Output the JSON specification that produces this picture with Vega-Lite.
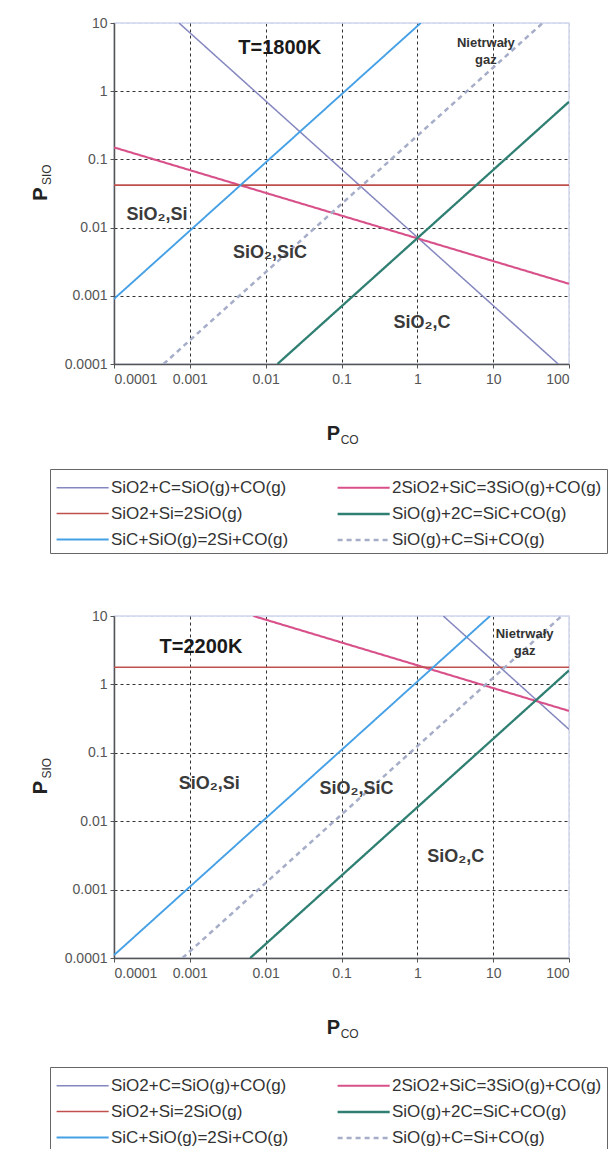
{
  "$schema": "https://vega.github.io/schema/vega-lite/v6.json",
  "padding": {"left": 29, "top": 15, "right": 0, "bottom": 0},
  "spacing": 53,
  "config": {
    "font": "Liberation Sans",
    "view": {"stroke": "#cfd8ee", "strokeWidth": 1.5},
    "axis": {
      "labelFont": "Liberation Sans", "labelFontSize": 14, "labelColor": "#555",
      "domainColor": "#555", "domainWidth": 1.5, "tickColor": "#555", "tickSize": 4,
      "gridColor": "#333", "gridDash": [3, 3], "gridWidth": 1, "gridOpacity": 1,
      "titleFont": "Liberation Sans", "titleFontSize": 20, "titleColor": "#222", "titleFontWeight": "bold"
    },
    "legend": {
      "labelFont": "Liberation Sans", "labelFontSize": 17, "labelColor": "#333", "labelLimit": 400,
      "columns": 2, "symbolType": "M-1,0H3.2", "symbolSize": 615, "symbolStrokeWidth": 2,
      "labelOffset": 28, "padding": 5, "rowPadding": 4, "columnPadding": 43,
      "fillColor": "white", "strokeColor": "#666"
    }
  },
  "resolve": {
    "scale": {"color": "independent", "strokeDash": "independent", "strokeWidth": "independent"},
    "legend": {"color": "independent", "strokeDash": "independent"}
  },
  "datasets": {
    "lines1800": [
      {"reaction": "SiO2+C=SiO(g)+CO(g)", "pco": 0.00072, "psio": 10},
      {"reaction": "SiO2+C=SiO(g)+CO(g)", "pco": 72, "psio": 0.0001},
      {"reaction": "2SiO2+SiC=3SiO(g)+CO(g)", "pco": 0.0001, "psio": 0.15},
      {"reaction": "2SiO2+SiC=3SiO(g)+CO(g)", "pco": 100, "psio": 0.0015},
      {"reaction": "SiO2+Si=2SiO(g)", "pco": 0.0001, "psio": 0.042},
      {"reaction": "SiO2+Si=2SiO(g)", "pco": 100, "psio": 0.042},
      {"reaction": "SiO(g)+2C=SiC+CO(g)", "pco": 0.0143, "psio": 0.0001},
      {"reaction": "SiO(g)+2C=SiC+CO(g)", "pco": 100, "psio": 0.7},
      {"reaction": "SiC+SiO(g)=2Si+CO(g)", "pco": 0.0001, "psio": 0.0009},
      {"reaction": "SiC+SiO(g)=2Si+CO(g)", "pco": 1.11, "psio": 10},
      {"reaction": "SiO(g)+C=Si+CO(g)", "pco": 0.00045, "psio": 0.0001},
      {"reaction": "SiO(g)+C=Si+CO(g)", "pco": 45, "psio": 10}
    ],
    "lines2200": [
      {"reaction": "SiO2+C=SiO(g)+CO(g)", "pco": 2.2, "psio": 10},
      {"reaction": "SiO2+C=SiO(g)+CO(g)", "pco": 100, "psio": 0.22},
      {"reaction": "2SiO2+SiC=3SiO(g)+CO(g)", "pco": 0.0069, "psio": 10},
      {"reaction": "2SiO2+SiC=3SiO(g)+CO(g)", "pco": 100, "psio": 0.41},
      {"reaction": "SiO2+Si=2SiO(g)", "pco": 0.0001, "psio": 1.78},
      {"reaction": "SiO2+Si=2SiO(g)", "pco": 100, "psio": 1.78},
      {"reaction": "SiO(g)+2C=SiC+CO(g)", "pco": 0.00625, "psio": 0.0001},
      {"reaction": "SiO(g)+2C=SiC+CO(g)", "pco": 100, "psio": 1.6},
      {"reaction": "SiC+SiO(g)=2Si+CO(g)", "pco": 0.0001, "psio": 0.00011},
      {"reaction": "SiC+SiO(g)=2Si+CO(g)", "pco": 9.1, "psio": 10},
      {"reaction": "SiO(g)+C=Si+CO(g)", "pco": 0.0008, "psio": 0.0001},
      {"reaction": "SiO(g)+C=Si+CO(g)", "pco": 80, "psio": 10}
    ],
    "notes1800": [
      {"kind": "temp", "text": "T=1800K", "pco": 0.0153, "psio": 4.3},
      {"kind": "gas", "text": "Nietrwały\ngaz", "pco": 8, "psio": 5.1},
      {"kind": "region", "text": "SiO₂,Si", "pco": 0.00037, "psio": 0.0155},
      {"kind": "region", "text": "SiO₂,SiC", "pco": 0.0114, "psio": 0.0043},
      {"kind": "region", "text": "SiO₂,C", "pco": 1.15, "psio": 0.0004}
    ],
    "notes2200": [
      {"kind": "temp", "text": "T=2200K", "pco": 0.0014, "psio": 3.5},
      {"kind": "gas", "text": "Nietrwały\ngaz", "pco": 26, "psio": 5.5},
      {"kind": "region", "text": "SiO₂,Si", "pco": 0.0018, "psio": 0.035},
      {"kind": "region", "text": "SiO₂,SiC", "pco": 0.158, "psio": 0.0295},
      {"kind": "region", "text": "SiO₂,C", "pco": 3.2, "psio": 0.003}
    ]
  },
  "vconcat": [
    {
      "width": 455, "height": 341,
      "layer": [
        {
          "data": {"name": "lines1800"},
          "mark": {"type": "line", "clip": true},
          "encoding": {
            "x": {"field": "pco", "type": "quantitative", "scale": {"type": "log", "domain": [0.0001, 100], "nice": false},
              "axis": {"values": [0.0001, 0.001, 0.01, 0.1, 1, 10, 100], "format": "~g", "labelPadding": 4, "title": "P", "titleX": 219, "titlePadding": 37,
                "gridColor": {"condition": {"test": "datum.value >= 100", "value": "#d0d0d8"}, "value": "#333"}}},
            "y": {"field": "psio", "type": "quantitative", "scale": {"type": "log", "domain": [0.0001, 10], "nice": false},
              "axis": {"values": [0.0001, 0.001, 0.01, 0.1, 1, 10], "format": "~g", "labelPadding": 3, "title": "P", "titlePadding": 14,
                "gridColor": {"condition": {"test": "datum.value >= 10", "value": "#cfd8ee"}, "value": "#333"}}},
            "detail": {"field": "reaction"},
            "color": {"field": "reaction", "type": "nominal",
              "scale": {"domain": ["SiO2+C=SiO(g)+CO(g)", "SiO2+Si=2SiO(g)", "SiC+SiO(g)=2Si+CO(g)", "2SiO2+SiC=3SiO(g)+CO(g)", "SiO(g)+2C=SiC+CO(g)", "SiO(g)+C=Si+CO(g)"],
                "range": ["#8587bf", "#c0504d", "#45a0e6", "#d8508a", "#2f7f72", "#a6adc8"]},
              "legend": {"title": null, "orient": "none", "legendX": -64, "legendY": 446}},
            "strokeDash": {"field": "reaction", "type": "nominal",
              "scale": {"domain": ["SiO2+C=SiO(g)+CO(g)", "SiO2+Si=2SiO(g)", "SiC+SiO(g)=2Si+CO(g)", "2SiO2+SiC=3SiO(g)+CO(g)", "SiO(g)+2C=SiC+CO(g)", "SiO(g)+C=Si+CO(g)"],
                "range": [[1, 0], [1, 0], [1, 0], [1, 0], [1, 0], [5, 4]]},
              "legend": {"title": null, "orient": "none", "legendX": -64, "legendY": 446}},
            "strokeWidth": {"field": "reaction", "type": "nominal",
              "scale": {"domain": ["SiO2+C=SiO(g)+CO(g)", "SiO2+Si=2SiO(g)", "SiC+SiO(g)=2Si+CO(g)", "2SiO2+SiC=3SiO(g)+CO(g)", "SiO(g)+2C=SiC+CO(g)", "SiO(g)+C=Si+CO(g)"],
                "range": [1.5, 2.5, 3, 3, 2.5, 1.5]}, "legend": null}
          }
        },
        {
          "data": {"name": "notes1800"},
          "transform": [{"filter": "datum.kind == 'temp'"}],
          "mark": {"type": "text", "fontSize": 20, "fontWeight": "bold", "color": "#1a1a1a"},
          "encoding": {"x": {"field": "pco", "type": "quantitative"}, "y": {"field": "psio", "type": "quantitative"}, "text": {"field": "text"}}
        },
        {
          "data": {"name": "notes1800"},
          "transform": [{"filter": "datum.kind == 'gas'"}],
          "mark": {"type": "text", "fontSize": 13, "fontWeight": "bold", "color": "#333", "lineBreak": "\n", "lineHeight": 17},
          "encoding": {"x": {"field": "pco", "type": "quantitative"}, "y": {"field": "psio", "type": "quantitative"}, "text": {"field": "text"}}
        },
        {
          "data": {"name": "notes1800"},
          "transform": [{"filter": "datum.kind == 'region'"}],
          "mark": {"type": "text", "fontSize": 18, "fontWeight": "bold", "color": "#3a3a3a"},
          "encoding": {"x": {"field": "pco", "type": "quantitative"}, "y": {"field": "psio", "type": "quantitative"}, "text": {"field": "text"}}
        },
        {
          "data": {"values": [{}]},
          "mark": {"type": "text", "text": "CO", "fontSize": 12, "color": "#333", "align": "left"},
          "encoding": {"x": {"datum": 0.0975}, "y": {"datum": 0.0000078}}
        },
        {
          "data": {"values": [{}]},
          "mark": {"type": "text", "text": "SIO", "fontSize": 12, "color": "#333", "angle": 270, "align": "left"},
          "encoding": {"x": {"datum": 0.0000131}, "y": {"datum": 0.042}}
        }
      ]
    },
    {
      "width": 455, "height": 342,
      "layer": [
        {
          "data": {"name": "lines2200"},
          "mark": {"type": "line", "clip": true},
          "encoding": {
            "x": {"field": "pco", "type": "quantitative", "scale": {"type": "log", "domain": [0.0001, 100], "nice": false},
              "axis": {"values": [0.0001, 0.001, 0.01, 0.1, 1, 10, 100], "format": "~g", "labelPadding": 4, "title": "P", "titleX": 219, "titlePadding": 37,
                "gridColor": {"condition": {"test": "datum.value >= 100", "value": "#d0d0d8"}, "value": "#333"}}},
            "y": {"field": "psio", "type": "quantitative", "scale": {"type": "log", "domain": [0.0001, 10], "nice": false},
              "axis": {"values": [0.0001, 0.001, 0.01, 0.1, 1, 10], "format": "~g", "labelPadding": 3, "title": "P", "titlePadding": 14,
                "gridColor": {"condition": {"test": "datum.value >= 10", "value": "#cfd8ee"}, "value": "#333"}}},
            "detail": {"field": "reaction"},
            "color": {"field": "reaction", "type": "nominal",
              "scale": {"domain": ["SiO2+C=SiO(g)+CO(g)", "SiO2+Si=2SiO(g)", "SiC+SiO(g)=2Si+CO(g)", "2SiO2+SiC=3SiO(g)+CO(g)", "SiO(g)+2C=SiC+CO(g)", "SiO(g)+C=Si+CO(g)"],
                "range": ["#8587bf", "#c0504d", "#45a0e6", "#d8508a", "#2f7f72", "#a6adc8"]},
              "legend": {"title": null, "orient": "none", "legendX": -64, "legendY": 451}},
            "strokeDash": {"field": "reaction", "type": "nominal",
              "scale": {"domain": ["SiO2+C=SiO(g)+CO(g)", "SiO2+Si=2SiO(g)", "SiC+SiO(g)=2Si+CO(g)", "2SiO2+SiC=3SiO(g)+CO(g)", "SiO(g)+2C=SiC+CO(g)", "SiO(g)+C=Si+CO(g)"],
                "range": [[1, 0], [1, 0], [1, 0], [1, 0], [1, 0], [5, 4]]},
              "legend": {"title": null, "orient": "none", "legendX": -64, "legendY": 451}},
            "strokeWidth": {"field": "reaction", "type": "nominal",
              "scale": {"domain": ["SiO2+C=SiO(g)+CO(g)", "SiO2+Si=2SiO(g)", "SiC+SiO(g)=2Si+CO(g)", "2SiO2+SiC=3SiO(g)+CO(g)", "SiO(g)+2C=SiC+CO(g)", "SiO(g)+C=Si+CO(g)"],
                "range": [1.5, 2.5, 3, 3, 2.5, 1.5]}, "legend": null}
          }
        },
        {
          "data": {"name": "notes2200"},
          "transform": [{"filter": "datum.kind == 'temp'"}],
          "mark": {"type": "text", "fontSize": 20, "fontWeight": "bold", "color": "#1a1a1a"},
          "encoding": {"x": {"field": "pco", "type": "quantitative"}, "y": {"field": "psio", "type": "quantitative"}, "text": {"field": "text"}}
        },
        {
          "data": {"name": "notes2200"},
          "transform": [{"filter": "datum.kind == 'gas'"}],
          "mark": {"type": "text", "fontSize": 13, "fontWeight": "bold", "color": "#333", "lineBreak": "\n", "lineHeight": 17},
          "encoding": {"x": {"field": "pco", "type": "quantitative"}, "y": {"field": "psio", "type": "quantitative"}, "text": {"field": "text"}}
        },
        {
          "data": {"name": "notes2200"},
          "transform": [{"filter": "datum.kind == 'region'"}],
          "mark": {"type": "text", "fontSize": 18, "fontWeight": "bold", "color": "#3a3a3a"},
          "encoding": {"x": {"field": "pco", "type": "quantitative"}, "y": {"field": "psio", "type": "quantitative"}, "text": {"field": "text"}}
        },
        {
          "data": {"values": [{}]},
          "mark": {"type": "text", "text": "CO", "fontSize": 12, "color": "#333", "align": "left"},
          "encoding": {"x": {"datum": 0.0975}, "y": {"datum": 0.0000078}}
        },
        {
          "data": {"values": [{}]},
          "mark": {"type": "text", "text": "SIO", "fontSize": 12, "color": "#333", "angle": 270, "align": "left"},
          "encoding": {"x": {"datum": 0.0000131}, "y": {"datum": 0.042}}
        }
      ]
    }
  ]
}
